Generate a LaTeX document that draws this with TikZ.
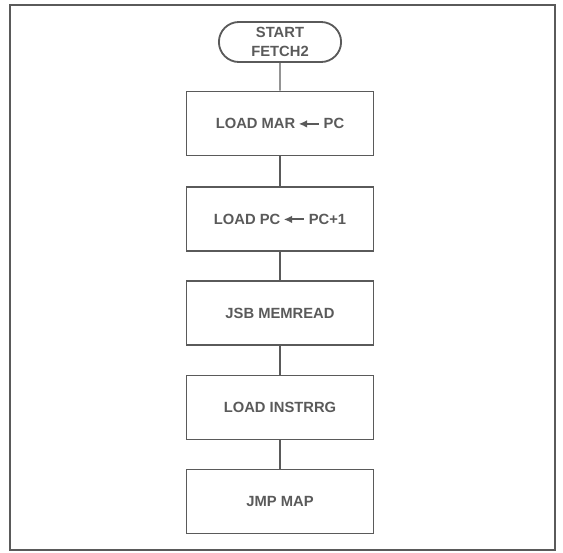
\documentclass[tikz,border=0pt]{standalone}
\usepackage{fontspec}
\setmainfont{Liberation Sans}
\usetikzlibrary{arrows.meta,shapes.misc}

\definecolor{inkgray}{HTML}{5A5A5A}
\newcommand{\loadarrow}{\tikz[x=1cm,y=1cm,baseline=-0.6ex]\draw[inkgray,line width=1.3pt,{Latex[length=6pt,width=5.5pt]}-] (0,0) -- (0.5,0);}

\begin{document}
\begin{tikzpicture}[x=0.025cm,y=0.025cm]

\useasboundingbox (0,0) rectangle (563,-552);
\draw[inkgray,line width=1pt] (10,-5) rectangle (555,-550);

\tikzstyle{every node}=[draw=inkgray,line width=1.3pt,text=inkgray,font=\bfseries\fontsize{10.5}{13.5}\selectfont,align=center,anchor=center];
\tikzstyle{stepbox}=[rectangle,minimum width=187*0.025cm,minimum height=64*0.025cm];

% Draw the flowchart nodes
\node[rounded rectangle,minimum width=125*0.025cm,minimum height=40*0.025cm,inner sep=1pt] (start) at (280,-42) {START\\FETCH2};
\node[stepbox] (mar) at (280,-123.5) {LOAD MAR\,\loadarrow\ PC};
\node[stepbox] (pc) at (280,-219) {LOAD PC\,\loadarrow\ PC+1};
\node[stepbox] (jsb) at (280,-313) {JSB MEMREAD};
\node[stepbox] (instr) at (280,-407.5) {LOAD INSTRRG};
\node[stepbox] (jmp) at (280,-501.5) {JMP MAP};

% Flow lines
\path[draw=inkgray,line width=1pt]
  (start) edge (mar)
  (mar) edge (pc)
  (pc) edge (jsb)
  (jsb) edge (instr)
  (instr) edge (jmp);

\end{tikzpicture}
\end{document}
